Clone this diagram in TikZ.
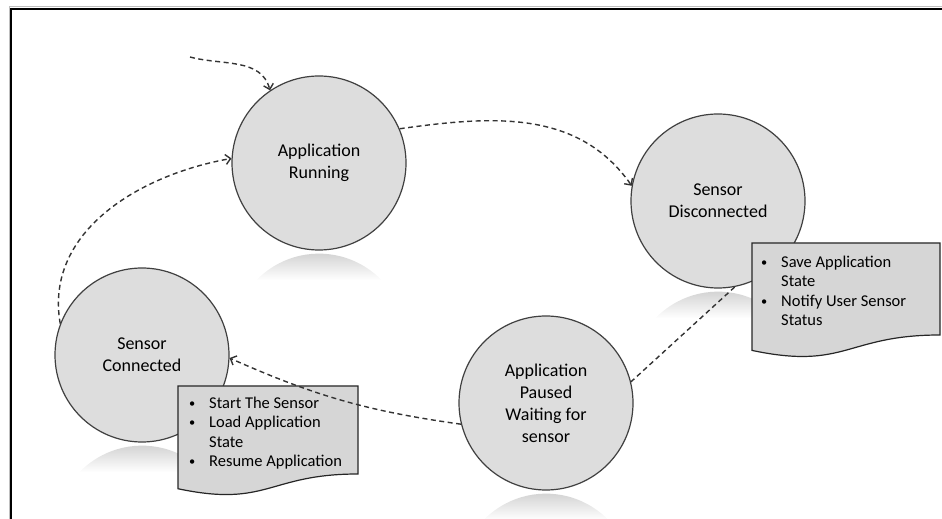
\documentclass[tikz,border=0pt]{standalone}
\usepackage{fontspec}
\setmainfont{Carlito}
\usepackage{tikz}
\usetikzlibrary{arrows.meta}
\definecolor{statefill}{HTML}{DDDDDD}
\definecolor{notefill}{HTML}{D6D6D6}
\newcommand{\bul}{\makebox[20pt][l]{\raisebox{1pt}{\scalebox{0.75}{\textbullet}}}}
\newcommand{\ind}{\hspace*{20pt}}
% note with wavy bottom: top-left x, top-left y, width, height
\newcommand{\notebox}[4]{%
  \filldraw[notebg] (#1,#2) -- (#1+#3,#2) -- (#1+#3,#2-0.8*#4)
    .. controls (#1+0.5*#3,#2-0.8*#4) and (#1+0.5*#3,#2-1.107*#4) .. (#1,#2-0.934*#4) -- cycle;}

\begin{document}
\begin{tikzpicture}[x=1pt,y=1pt,
  state/.style={circle,draw=black!75,line width=1.2pt,fill=statefill,minimum size=174pt,
    inner sep=0pt,align=center,font=\fontsize{18}{22}\selectfont},
  notebg/.style={draw=black!85,line width=1.2pt,fill=notefill},
  notetext/.style={anchor=north west,inner sep=0pt,align=left,font=\fontsize{16.5}{19.5}\selectfont},
  flow/.style={line width=1.4pt,black!80,dash pattern=on 5pt off 3.5pt,
    -{Straight Barb[length=5pt,width=10pt]}}]
  \useasboundingbox (0,0) rectangle (942,519);
  \draw[gray!50,line width=1pt] (9,0) -- (9,512) -- (942,512);
  \draw[line width=1.2pt] (11,0) -- (11,510) -- (942,510);

  \node[state] (run) at (319,356) {Application\\Running};
  \node[state] (disc) at (718,318) {Sensor\\Disconnected};
  \node[state] (conn) at (142,164) {Sensor\\Connected};
  \node[state] (pause) at (546,116) {Application\\Paused\\Waiting for\\sensor};
  \foreach \n in {run,disc,conn,pause}
    \shade[top color=gray!40,bottom color=white] ([yshift=-3pt]\n.south) ++(-62.6pt,-26.6pt)
      arc[start angle=136,end angle=44,radius=87pt] -- cycle;

  \notebox{752}{276}{188}{115}
  \node[notetext] (discnote) at (761,263.5) {\bul Save Application\\\ind State\\\bul Notify User Sensor\\\ind Status};
  \notebox{178}{133}{180}{110}
  \node[notetext] (connnote) at (189,122.5) {\bul Start The Sensor\\\bul Load Application\\\ind State\\\bul Resume Application};

  \coordinate (init) at (190,462);
  \draw[flow] (init) to[out=-15,in=105] (run.124);
  \draw[flow] (run.23) to[out=8,in=125] (disc.170);
  \draw[flow,-] (disc.281) -- (pause.14.5);
  \draw[flow] (pause.194) to[bend left=8] (conn.-2);
  \draw[flow] (conn.159) to[out=100,in=190] (run.177);
\end{tikzpicture}
\end{document}
